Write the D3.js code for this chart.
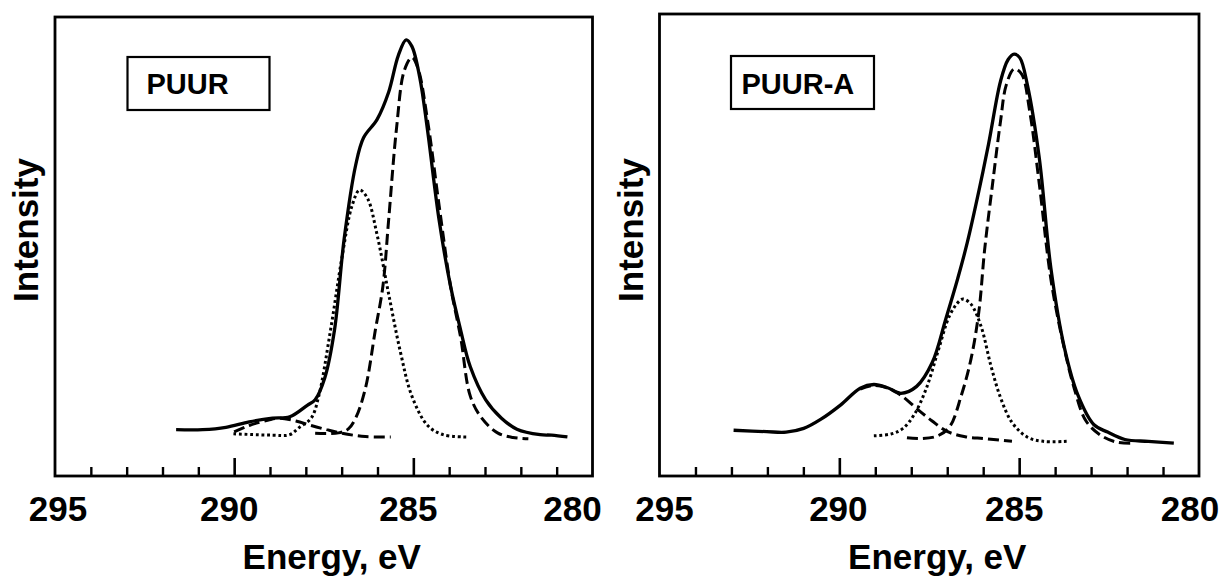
<!DOCTYPE html>
<html>
<head>
<meta charset="utf-8">
<script src="https://cdn.jsdelivr.net/npm/d3@7/dist/d3.min.js"></script>
<style>
  html, body { margin: 0; padding: 0; background: #fff; }
  svg { display: block; }
  text { font-family: "Liberation Sans", Arial, Helvetica, sans-serif; font-weight: bold; fill: #000; }
</style>
</head>
<body>
<svg id="chart" width="1223" height="577"></svg>
<script>
// ---------- DATA (binding energy in eV, intensity in arbitrary units) ----------
const panelNames = ["PUUR", "PUUR-A"];
const xTickValues = [295, 290, 285, 280];
const xMinorTicks = [294, 293, 292, 291, 289, 288, 287, 286, 284, 283, 282, 281];
const xMajorTicks = [290, 285];
const xTitle = "Energy, eV";
const yTitle = "Intensity";

// PUUR – measured envelope (solid)
const puurEnvelope = [
  [291.62, 10.1], [290.88, 10.1], [290.23, 10.6], [289.58, 11.8], [288.93, 12.6],
  [288.45, 12.9], [287.96, 15.4], [287.74, 16.6], [287.47, 21.4], [287.20, 31.8],
  [286.93, 51.7], [286.61, 67.7], [286.39, 73.7], [286.01, 77.7], [285.69, 83.6],
  [285.42, 91.6], [285.20, 95.0], [285.04, 93.6], [284.82, 86.8], [284.61, 75.7],
  [284.28, 55.7], [283.96, 41.3], [283.68, 31.8], [283.41, 23.8], [282.98, 16.6],
  [282.54, 12.6], [282.11, 10.2], [281.46, 9.0], [281.14, 8.9], [280.70, 8.5]
];
// PUUR – C–C/C–H component (dashed)
const puurMain = [
  [287.74, 9.3], [287.09, 9.4], [286.82, 10.2], [286.61, 12.6], [286.34, 19.0],
  [286.06, 31.8], [285.85, 41.3], [285.69, 55.7], [285.47, 75.7], [285.25, 88.4],
  [285.04, 91.2], [284.87, 88.8], [284.60, 77.3], [284.28, 58.9], [283.96, 41.3],
  [283.68, 30.2], [283.41, 17.4], [283.09, 12.6], [282.65, 9.4], [282.22, 8.4],
  [281.79, 8.1]
];
// PUUR – C–O/C–N component (dotted)
const puurMid = [
  [290.02, 9.2], [288.93, 8.9], [288.45, 9.0], [288.18, 10.6], [287.85, 12.6],
  [287.64, 17.4], [287.31, 31.8], [286.99, 47.7], [286.71, 58.9], [286.50, 62.3],
  [286.28, 60.5], [286.01, 52.5], [285.69, 39.7], [285.36, 27.0], [285.04, 17.4],
  [284.60, 11.0], [284.17, 9.0], [283.52, 8.5]
];
// PUUR – O–C=O component (dashed, small)
const puurHigh = [
  [290.00, 9.6], [289.58, 11.0], [289.04, 12.2], [288.72, 12.6], [288.28, 12.0],
  [287.85, 11.0], [287.42, 10.1], [286.99, 9.3], [286.34, 8.6], [285.63, 8.5]
];

// PUUR-A – measured envelope (solid)
const puuraEnvelope = [
  [292.94, 9.9], [292.02, 9.6], [291.48, 9.5], [290.99, 10.3], [290.51, 12.3],
  [289.96, 15.4], [289.42, 19.0], [289.04, 19.8], [288.66, 19.1], [288.29, 17.9],
  [287.85, 19.4], [287.42, 24.5], [287.04, 34.0], [286.71, 42.7], [286.44, 50.6],
  [286.12, 61.7], [285.85, 71.9], [285.52, 85.4], [285.31, 90.1], [285.14, 91.3],
  [284.98, 90.5], [284.77, 84.6], [284.44, 68.8], [284.12, 45.1], [283.74, 27.7],
  [283.36, 17.4], [282.92, 11.1], [282.54, 9.5], [282.06, 7.9], [281.41, 7.5],
  [280.70, 7.1]
];
// PUUR-A – C–C/C–H component (dashed)
const puuraMain = [
  [288.12, 8.3], [287.69, 8.1], [287.26, 8.7], [286.93, 10.7], [286.61, 17.4],
  [286.34, 25.3], [286.12, 35.6], [285.96, 49.0], [285.74, 63.2], [285.52, 76.7],
  [285.36, 84.6], [285.14, 88.1], [284.93, 87.0], [284.71, 79.1], [284.44, 63.2],
  [284.12, 42.7], [283.79, 29.2], [283.47, 19.0], [283.14, 11.9], [282.71, 8.7],
  [282.27, 7.3], [281.84, 7.1]
];
// PUUR-A – C–O/C–N component (dotted)
const puuraMid = [
  [289.04, 8.7], [288.56, 9.1], [288.23, 10.3], [287.91, 13.4], [287.58, 19.0],
  [287.26, 26.9], [286.93, 34.8], [286.66, 37.9], [286.55, 38.3], [286.34, 37.2],
  [286.06, 32.4], [285.79, 24.0], [285.52, 17.0], [285.20, 11.6], [284.77, 8.4],
  [284.33, 7.5], [283.68, 7.5]
];
// PUUR-A – O–C=O component (dashed, small)
const puuraHigh = [
  [289.42, 18.8], [289.04, 19.6], [288.66, 19.1], [288.29, 17.5], [287.85, 14.6],
  [287.42, 11.9], [286.99, 9.6], [286.50, 8.5], [285.96, 8.1], [285.20, 7.5]
];

// ---------- LAYOUT / STYLE ----------
const panels = [
  { name: panelNames[0], left: 55, right: 592.5, top: 17, bottom: 476,
    legend: { x: 127.5, y: 57, w: 142, h: 53, tx: 146.5 },
    labelShift: [3, -5, -5, -20], titleShift: 8,
    series: [
      { data: puurEnvelope, kind: "solid" },
      { data: puurMid, kind: "dotted" },
      { data: puurMain, kind: "dashed" },
      { data: puurHigh, kind: "dashed" }
    ] },
  { name: panelNames[1], left: 659.5, right: 1199, top: 14, bottom: 476,
    legend: { x: 731, y: 56, w: 143, h: 53, tx: 741.5 },
    labelShift: [5, -1, -5, -9], titleShift: 8,
    series: [
      { data: puuraEnvelope, kind: "solid" },
      { data: puuraMid, kind: "dotted" },
      { data: puuraMain, kind: "dashed" },
      { data: puuraHigh, kind: "dashed" }
    ] }
];

const styles = {
  solid:  { width: 3.3, dash: null },
  dashed: { width: 3.0, dash: "11,5" },
  dotted: { width: 3.0, dash: "2.8,2.8" }
};

const svg = d3.select("#chart");

panels.forEach(p => {
  const x = d3.scaleLinear().domain([295, 280]).range([p.left, p.right]);
  const y = d3.scaleLinear().domain([0, 100]).range([p.bottom, p.top]);
  const g = svg.append("g");

  const line = d3.line()
    .x(d => x(d[0]))
    .y(d => y(d[1]))
    .curve(d3.curveCatmullRom.alpha(0.5));

  p.series.forEach(s => {
    const st = styles[s.kind];
    g.append("path")
      .datum(s.data)
      .attr("d", line)
      .attr("fill", "none")
      .attr("stroke", "#000")
      .attr("stroke-width", st.width)
      .attr("stroke-linejoin", "round")
      .attr("stroke-dasharray", st.dash);
  });

  // minor ticks (pointing inward)
  g.append("g")
    .attr("transform", `translate(0,${p.bottom})`)
    .call(d3.axisBottom(x).tickValues(xMinorTicks).tickSize(-9).tickFormat(""))
    .call(a => a.select(".domain").remove())
    .call(a => a.selectAll("line").attr("stroke", "#000").attr("stroke-width", 2.4));

  // major ticks
  g.append("g")
    .attr("transform", `translate(0,${p.bottom})`)
    .call(d3.axisBottom(x).tickValues(xMajorTicks).tickSize(-18).tickFormat(""))
    .call(a => a.select(".domain").remove())
    .call(a => a.selectAll("line").attr("stroke", "#000").attr("stroke-width", 2.6));

  // frame
  g.append("rect")
    .attr("x", p.left).attr("y", p.top)
    .attr("width", p.right - p.left).attr("height", p.bottom - p.top)
    .attr("fill", "none").attr("stroke", "#000").attr("stroke-width", 2.8);

  // tick labels
  xTickValues.forEach((v, i) => {
    g.append("text")
      .attr("x", x(v) + p.labelShift[i])
      .attr("y", 521)
      .attr("text-anchor", "middle")
      .attr("font-size", 35)
      .text(v);
  });

  // x title
  g.append("text")
    .attr("x", (p.left + p.right) / 2 + p.titleShift)
    .attr("y", 569)
    .attr("text-anchor", "middle")
    .attr("font-size", 35)
    .text(xTitle);

  // y title
  g.append("text")
    .attr("transform", `translate(${p.left - 17},230) rotate(-90)`)
    .attr("text-anchor", "middle")
    .attr("font-size", 35)
    .text(yTitle);

  // legend box
  g.append("rect")
    .attr("x", p.legend.x).attr("y", p.legend.y)
    .attr("width", p.legend.w).attr("height", p.legend.h)
    .attr("fill", "#fff").attr("stroke", "#000").attr("stroke-width", 2.2);
  g.append("text")
    .attr("x", p.legend.tx).attr("y", 94)
    .attr("font-size", 29)
    .text(p.name);
});
</script>
</body>
</html>
